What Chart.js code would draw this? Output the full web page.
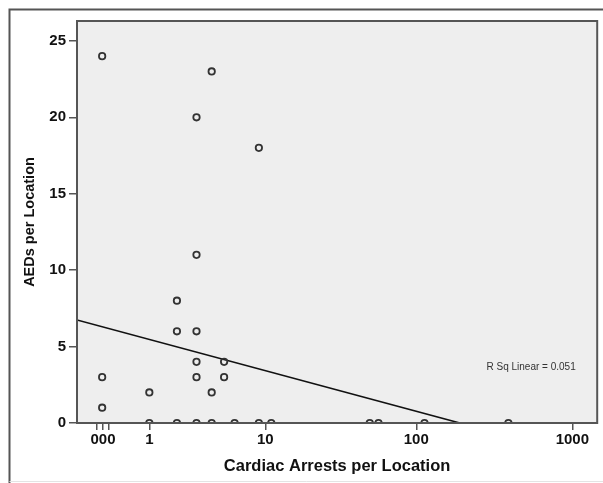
<!DOCTYPE html>
<html>
<head>
<meta charset="utf-8">
<script src="https://cdn.jsdelivr.net/npm/chart.js@4/dist/chart.umd.min.js"></script>
<style>
  html, body { margin: 0; padding: 0; background: #fff; }
  #wrap { width: 603px; height: 483px; }
</style>
</head>
<body>
<div id="wrap"><canvas id="c" width="603" height="483"></canvas></div>
<script>
// raw values
const arrests = [0, 0, 0, 1, 1, 2, 2, 2, 3, 3, 3, 3, 3, 3, 4, 4, 4, 5, 5, 6, 9, 9, 11, 50, 57, 113, 390];
const aeds    = [24, 3, 1, 2, 0, 8, 6, 0, 20, 11, 6, 4, 3, 0, 23, 2, 0, 4, 3, 0, 18, 0, 0, 0, 0, 0, 0];

// x axis is log10(x + 1)
const xTickValues = [-0.074, 0.012, 0.109, 1, 10, 100, 1000];
const xTickLabels = ["", "000", "", "1", "10", "100", "1000"];
const yTickValues = [0, 5, 10, 15, 20, 25];
const xRange = [-0.309, 1441];
const yRange = [0, 26.3];

// fit line (in log10(x+1) units)
const fitIntercept = 6.3, fitSlope = -2.76;
const rSqLabel = "R Sq Linear = 0.051";

const t = (v) => Math.log10(v + 1);
const ink = "#111", frame = "#555";

const points = arrests.map((a, i) => ({ x: t(a), y: aeds[i] }));
const fitStart = t(xRange[0]);
const fitEnd = -fitIntercept / fitSlope;
const fitLine = [
  { x: fitStart, y: fitIntercept + fitSlope * fitStart },
  { x: fitEnd, y: 0 },
];

const framePlugin = {
  id: "frame",
  beforeDraw(chart) {
    const { ctx, chartArea: a } = chart;
    ctx.save();
    ctx.fillStyle = "#fff";
    ctx.fillRect(0, 0, chart.width, chart.height);
    // outer box
    ctx.strokeStyle = frame; ctx.lineWidth = 2;
    ctx.beginPath();
    ctx.moveTo(9.5, 483); ctx.lineTo(9.5, 9.5); ctx.lineTo(603, 9.5);
    ctx.stroke();
    ctx.strokeStyle = "#e4e4e4"; ctx.lineWidth = 1;
    ctx.beginPath(); ctx.moveTo(9.5, 481.5); ctx.lineTo(603, 481.5); ctx.stroke();
    ctx.fillStyle = "#eeeeee";
    ctx.fillRect(a.left, a.top, a.right - a.left, a.bottom - a.top);
    ctx.restore();
  },
  afterDatasetsDraw(chart) {
    const { ctx, chartArea: a, scales } = chart;
    ctx.save();
    ctx.strokeStyle = frame; ctx.lineWidth = 2;
    ctx.strokeRect(a.left, a.top, a.right - a.left, a.bottom - a.top);
    ctx.fillStyle = "#333";
    ctx.font = "10px 'Liberation Sans', Arial, sans-serif";
    ctx.textAlign = "center"; ctx.textBaseline = "middle";
    ctx.fillText(rSqLabel, scales.x.getPixelForValue(2.737), scales.y.getPixelForValue(3.66));
    ctx.restore();
  },
};

const tickFont = { family: "'Liberation Sans', Arial, sans-serif", size: 15, weight: "bold" };

new Chart(document.getElementById("c"), {
  type: "scatter",
  data: {
    datasets: [
      {
        data: points,
        pointRadius: 3.2,
        pointBorderWidth: 1.8,
        pointBorderColor: "#333",
        pointBackgroundColor: "rgba(0,0,0,0)",
        clip: 0,
      },
      {
        type: "line",
        data: fitLine,
        borderColor: "#111",
        borderWidth: 1.6,
        pointRadius: 0,
        fill: false,
        clip: 0,
      },
    ],
  },
  options: {
    responsive: false,
    animation: false,
    devicePixelRatio: 1,
    layout: { padding: { left: 0, right: 4, top: 21, bottom: 0 } },
    plugins: { legend: { display: false }, tooltip: { enabled: false } },
    scales: {
      x: {
        type: "linear",
        min: t(xRange[0]), max: t(xRange[1]),
        afterBuildTicks: (s) => { s.ticks = xTickValues.map((v) => ({ value: t(v) })); },
        afterFit: (s) => { s.height = 60; },
        grid: { drawOnChartArea: false, drawTicks: true, tickLength: 7, color: frame, lineWidth: 1.5 },
        border: { display: false },
        ticks: {
          autoSkip: false, maxRotation: 0, padding: 1, color: ink, font: tickFont,
          callback: (v, i) => xTickLabels[i],
        },
        title: {
          display: true, text: "Cardiac Arrests per Location", color: ink,
          font: { family: "'Liberation Sans', Arial, sans-serif", size: 16.5, weight: "bold" },
          padding: { top: 0, bottom: 7 },
        },
      },
      y: {
        min: yRange[0], max: yRange[1],
        afterBuildTicks: (s) => { s.ticks = yTickValues.map((v) => ({ value: v })); },
        afterFit: (s) => { s.width = 77; },
        grid: { drawOnChartArea: false, drawTicks: true, tickLength: 8, color: frame, lineWidth: 1.5 },
        border: { display: false },
        ticks: { padding: 3, color: ink, font: tickFont },
        title: {
          display: true, text: "AEDs per Location", color: ink,
          font: { family: "'Liberation Sans', Arial, sans-serif", size: 14.5, weight: "bold" },
          padding: { top: 21, bottom: 0 },
        },
      },
    },
  },
  plugins: [framePlugin],
});
</script>
</body>
</html>
